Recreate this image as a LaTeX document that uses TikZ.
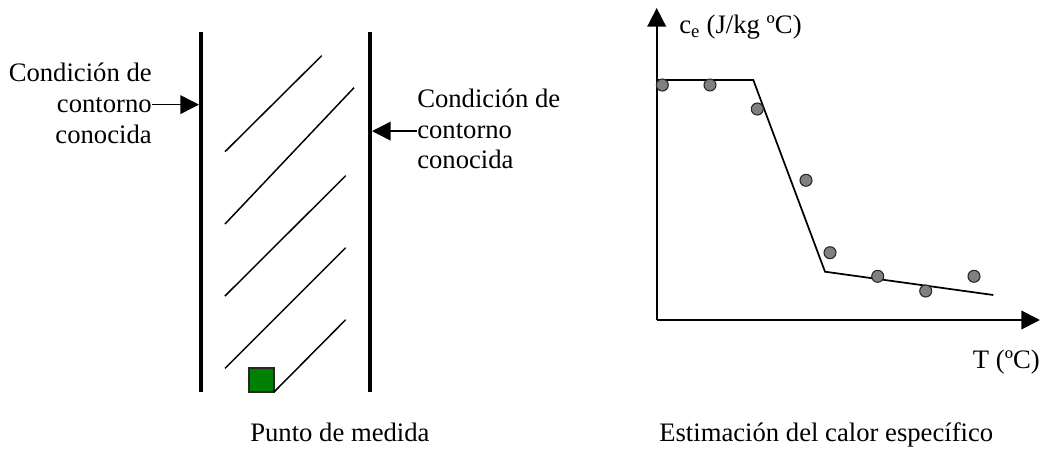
\documentclass[tikz,border=0pt]{standalone}
\usepackage{fontspec}
\setmainfont{Liberation Serif}
\usetikzlibrary{arrows.meta}
\begin{document}
\begin{tikzpicture}[x=0.75pt,y=-0.75pt,
  txt/.style={inner sep=0pt,font=\fontsize{20}{24}\selectfont},
  wall/.style={line width=3pt},
  hatch/.style={line width=1.1pt},
  arr/.style={line width=1.1pt,-{Triangle[length=14pt,width=14pt]}},
  axis/.style={line width=1.3pt,-{Triangle[length=14pt,width=14pt]}},
  curve/.style={line width=1.3pt},
  dot/.style={circle,draw=black!85,line width=0.8pt,fill=black!50,inner sep=0pt,minimum size=9pt},
  sensor/.style={draw=black!85,line width=1.2pt,fill={rgb,255:red,0;green,128;blue,0}}
]
\useasboundingbox (0,0) rectangle (1051,450);

% ---- left diagram: wall ----
\coordinate (lwt) at (201,32);
\coordinate (lwb) at (201,392);
\coordinate (rwt) at (370,32);
\coordinate (rwb) at (370,392);
\draw[wall] (lwt) -- (lwb);
\draw[wall] (rwt) -- (rwb);
\coordinate (lwa) at (199,0);
\coordinate (rwa) at (372,0);

% hatch lines
\draw[hatch] (225,151.7) -- (321.7,55.7);
\draw[hatch] (225,224) -- (354,87.7);
\draw[hatch] (225,296) -- (345.7,175.7);
\draw[hatch] (225,368.3) -- (345.7,247.7);

% measuring point
\draw[sensor] (249,368) rectangle (274,392);
\coordinate (sq) at (274,392);
\coordinate (h5) at (345.7,319.7);
\draw[hatch] (sq) -- (h5);

% left boundary text
\node[txt,anchor=base east] (lt1) at (152,81) {Condición de};
\node[txt,anchor=base east] (lt2) at (152,112) {contorno};
\node[txt,anchor=base east] (lt3) at (152,143) {conocida};
\draw[arr] (lt2.east) -- (lt2.east -| lwa);

% right boundary text
\node[txt,anchor=base west] (rt1) at (417,107) {Condición de};
\node[txt,anchor=base west] (rt2) at (417,138.5) {contorno};
\node[txt,anchor=base west] (rt3) at (417,168.5) {conocida};
\draw[arr] (rt2.west) -- (rt2.west -| rwa);

\node[txt,anchor=base west] (lbl1) at (250,441.7) {Punto de medida};

% ---- right diagram: graph ----
\coordinate (o) at (656.7,320);
\coordinate (ytip) at (656.7,8);
\coordinate (xtip) at (1040,320);
\draw[axis] (o) -- (ytip);
\draw[axis] (o) -- (xtip);
\node[txt,anchor=base west] (ylab) at (679,33) {c\textsubscript{e} (J/kg ºC)};
\node[txt,anchor=base east] (xlab) at (1040,368) {T (ºC)};

\coordinate (c1) at (656.7,80);
\coordinate (c2) at (753.3,80);
\coordinate (c3) at (825,271.7);
\coordinate (c4) at (993.3,295);
\draw[curve] (c1) -- (c2) -- (c3) -- (c4);

\node[dot] (p1) at (662.3,85) {};
\node[dot] (p2) at (710,85) {};
\node[dot] (p3) at (757.3,109) {};
\node[dot] (p4) at (806,180.3) {};
\node[dot] (p5) at (830,252.7) {};
\node[dot] (p6) at (877.7,276.3) {};
\node[dot] (p7) at (925.7,291) {};
\node[dot] (p8) at (974,276.3) {};

\node[txt,anchor=base west] (lbl2) at (659,441.7) {Estimación del calor específico};
\end{tikzpicture}
\end{document}
